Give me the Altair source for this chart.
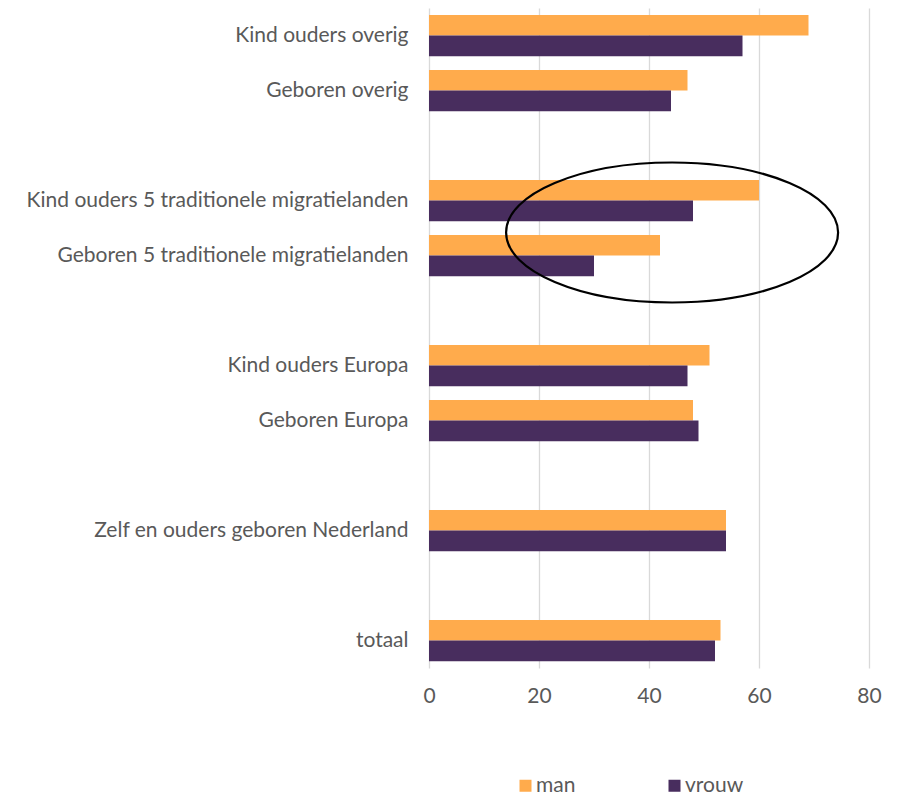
import altair as alt
import pandas as pd

# Row order, with empty spacer rows as in the original chart
order = [
    "Kind ouders overig",
    "Geboren overig",
    " ",
    "Kind ouders 5 traditionele migratielanden",
    "Geboren 5 traditionele migratielanden",
    "  ",
    "Kind ouders Europa",
    "Geboren Europa",
    "   ",
    "Zelf en ouders geboren Nederland",
    "    ",
    "totaal",
]
categories = [
    "Kind ouders overig",
    "Geboren overig",
    "Kind ouders 5 traditionele migratielanden",
    "Geboren 5 traditionele migratielanden",
    "Kind ouders Europa",
    "Geboren Europa",
    "Zelf en ouders geboren Nederland",
    "totaal",
]
man = [69, 47, 60, 42, 51, 48, 54, 53]
vrouw = [57, 44, 48, 30, 47, 49, 54, 52]
series = ["man", "vrouw"]
colors = ["#FFAB4C", "#482D5E"]
x_ticks = [0, 20, 40, 60, 80]

# Highlight ellipse annotation (around the two "5 traditionele migratielanden" rows)
ellipse_x = [44.2]
ellipse_row = ["Geboren 5 traditionele migratielanden"]

rows = []
for c, m, v in zip(categories, man, vrouw):
    rows.append({"categorie": c, "reeks": "man", "waarde": m})
    rows.append({"categorie": c, "reeks": "vrouw", "waarde": v})
df = pd.DataFrame(rows)
ell_df = pd.DataFrame({"waarde": ellipse_x, "categorie": ellipse_row})

FONT = "Lato"
TXT = "#595959"
FS = 21

y_enc = alt.Y(
    "categorie:N",
    sort=order,
    scale=alt.Scale(domain=order, paddingInner=0.25, paddingOuter=0.125),
    axis=alt.Axis(
        title=None, domain=False, ticks=False, grid=False,
        labelFont=FONT, labelFontSize=FS, labelColor=TXT, labelPadding=21,
        labelLimit=500,
    ),
)
x_enc = alt.X(
    "waarde:Q",
    scale=alt.Scale(domain=[0, 80], nice=False),
    axis=alt.Axis(
        title=None, domain=False, ticks=False, values=x_ticks,
        grid=True, gridColor="#D9D9D9", gridWidth=1.3,
        labelFont=FONT, labelFontSize=FS, labelColor=TXT, labelPadding=17,
        labelFlush=False,
    ),
)

bars = alt.Chart(df).mark_bar().encode(
    x=x_enc,
    y=y_enc,
    yOffset=alt.YOffset(
        "reeks:N", sort=series,
        scale=alt.Scale(domain=series, paddingInner=0, paddingOuter=0),
    ),
    color=alt.Color(
        "reeks:N",
        scale=alt.Scale(domain=series, range=colors),
        legend=alt.Legend(
            title=None, orient="none", direction="horizontal",
            legendX=86, legendY=767,
            symbolType="square", symbolSize=144, symbolStrokeWidth=0,
            symbolOpacity=1,
            labelFont=FONT, labelFontSize=FS, labelColor=TXT,
            labelOffset=0, columnPadding=88,
        ),
    ),
)

ellipse_path = "M -1 0 A 1 0.4217 0 1 0 1 0 A 1 0.4217 0 1 0 -1 0 Z"
ellipse = alt.Chart(ell_df).mark_point(
    shape=ellipse_path, size=332 * 332, filled=False, color="black",
    strokeWidth=2.2, opacity=1, yOffset=-23,
).encode(
    x=alt.X("waarde:Q"),
    y=alt.Y("categorie:N", sort=order),
)

chart = (
    alt.layer(bars, ellipse)
    .properties(
        width=440,
        height=660,
        autosize=alt.AutoSizeParams(type="none"),
        padding={"left": 421, "top": 0, "right": 22, "bottom": 125},
    )
    .configure(font=FONT)
    .configure_view(stroke=None)
)

chart.save("out.html", embed_options={"renderer": "svg", "actions": False})
